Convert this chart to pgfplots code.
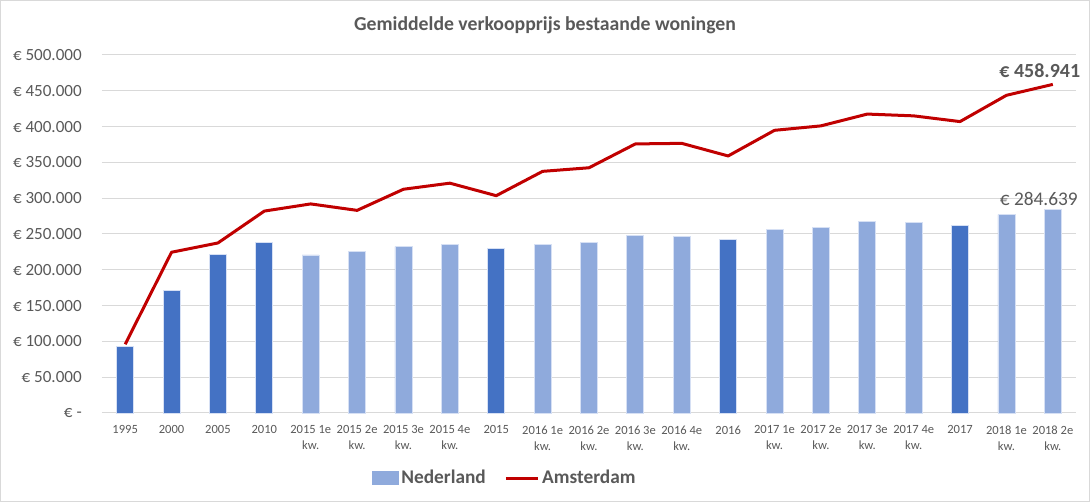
\documentclass[border=0pt]{standalone}
\usepackage{fontspec}
\setmainfont{Carlito}
\usepackage{pgfplots}
\pgfplotsset{compat=1.18}
\definecolor{dark}{HTML}{4472C4}
\definecolor{light}{HTML}{8FAADC}
\definecolor{ams}{HTML}{C00000}
\definecolor{txt}{HTML}{595959}
\definecolor{grd}{HTML}{D9D9D9}
\definecolor{edge}{HTML}{D6E0F4}
\begin{document}
\begin{tikzpicture}
\useasboundingbox (0,0) rectangle (817.5pt,376.5pt);
\draw[grd, line width=0.75pt] (0.375pt,0.375pt) rectangle (817.125pt,376.125pt);
\node[font=\bfseries\fontsize{14.8}{17}\selectfont, text=txt] at (408.75pt,357.75pt) {Gemiddelde verkoopprijs bestaande woningen};
\begin{axis}[
    at={(76.5pt,66.75pt)}, anchor=south west,
    scale only axis, width=730.5pt, height=268.5pt,
    xmin=-0.5, xmax=20.5, ymin=0, ymax=500000,
    scaled y ticks=false,
    axis line style={draw=none},
    major tick length=0pt,
    ymajorgrids, grid style={grd, line width=0.75pt},
    xtick={0,...,20},
    xticklabels={1995, 2000, 2005, 2010, 2015 1e\\kw., 2015 2e\\kw., 2015 3e\\kw., 2015 4e\\kw., 2015,
      2016 1e\\kw., 2016 2e\\kw., 2016 3e\\kw., 2016 4e\\kw., 2016,
      2017 1e\\kw., 2017 2e\\kw., 2017 3e\\kw., 2017 4e\\kw., 2017, 2018 1e\\kw., 2018 2e\\kw.},
    xticklabel style={font=\fontsize{9.4}{12}\selectfont, text=txt, align=center, yshift=-6pt},
    ytick={0,50000,...,500000},
    yticklabels={€ -\hspace{6pt}, € 50.000, € 100.000, € 150.000, € 200.000, € 250.000, € 300.000, € 350.000, € 400.000, € 450.000, € 500.000},
    yticklabel style={font=\fontsize{12.8}{14}\selectfont, text=txt, anchor=east, inner xsep=0pt, xshift=-15pt},
    legend columns=2,
    legend style={draw=none, fill=none, at={(0.4138,-0.1816)}, anchor=center,
      font=\bfseries\fontsize{14.5}{16}\selectfont, text=txt,
      /tikz/every even column/.append style={column sep=12pt}},
    clip=false,
]
% kwartalen (lichtblauw)
\addplot[ybar, bar shift=0pt, bar width=12.75pt, fill=light, draw=edge, line width=0.6pt,
  legend image code/.code={\fill[light] (0pt,-4.9pt) rectangle (19.5pt,4.9pt);}]
coordinates {
  (4,220700) (5,226000) (6,232500) (7,234800)
  (9,236000) (10,238500) (11,248500) (12,246200)
  (14,256500) (15,259500) (16,267000) (17,266000)
  (19,277000) (20,284639)
};
\addlegendentry{Nederland}
% jaren (donkerblauw)
\addplot[ybar, bar shift=0pt, bar width=12.75pt, fill=dark, draw=edge, line width=0.6pt, forget plot]
coordinates {
  (0,93000) (1,171500) (2,222000) (3,238500) (8,229500) (13,243000) (18,261800)
};
% Amsterdam
\addplot[ams, line width=2.25pt, line join=round, mark=none,
  legend image code/.code={\draw[ams, line width=2.25pt] (0pt,0pt) -- (24pt,0pt);}]
coordinates {
  (0,96000) (1,224500) (2,237500) (3,282000) (4,292000) (5,283000) (6,312500)
  (7,321000) (8,303500) (9,337500) (10,342500) (11,375800) (12,376600) (13,359000)
  (14,394800) (15,401000) (16,417500) (17,415000) (18,407000) (19,443700) (20,458941)
};
\addlegendentry{Amsterdam}
\node[font=\bfseries\fontsize{15}{17}\selectfont, text=txt, anchor=base, xshift=-9.75pt, yshift=5.25pt] at (axis cs:20,458941) {€ 458.941};
\node[font=\fontsize{14.5}{17}\selectfont, text=txt, anchor=base, xshift=-10.5pt, yshift=3pt] at (axis cs:20,284639) {€ 284.639};
\end{axis}
\end{tikzpicture}
\end{document}
